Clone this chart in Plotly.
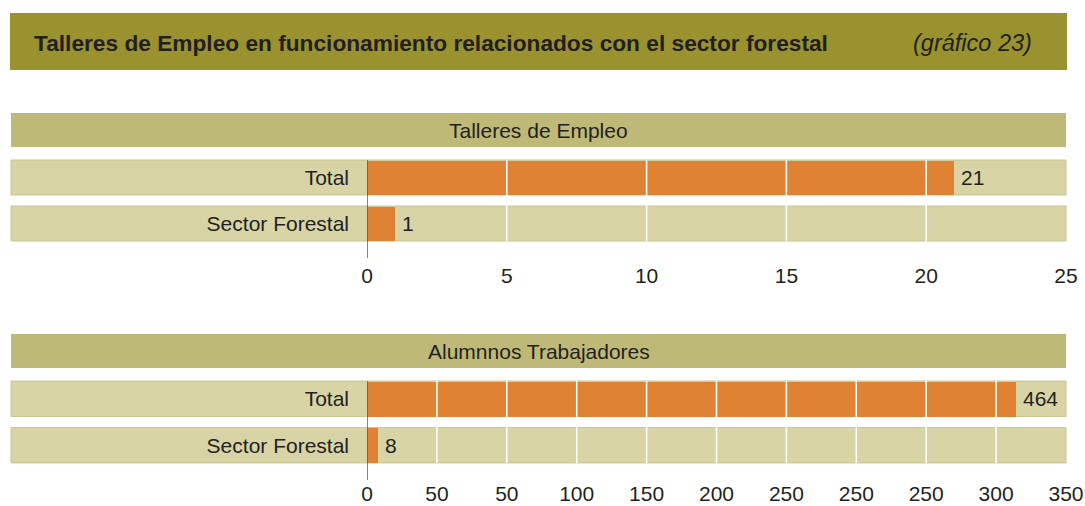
import plotly.graph_objects as go

# ---- data ----
categories = ["Total", "Sector Forestal"]
talleres_values = [21, 1]
alumnos_values = [464, 8]
talleres_ticks = [0, 5, 10, 15, 20, 25]
talleres_ticktext = ["0", "5", "10", "15", "20", "25"]
alumnos_ticks = [0, 50, 100, 150, 200, 250, 300, 350, 400, 450, 500]
alumnos_ticktext = ["0", "50", "50", "100", "150", "200", "250", "250", "250", "300", "350"]

title_text = "Talleres de Empleo en funcionamiento relacionados con el sector forestal"
subtitle_text = "(gráfico 23)"
section1 = "Talleres de Empleo"
section2 = "Alumnnos Trabajadores"

# ---- style ----
W, H = 1085, 506
FONT = "Liberation Sans, Arial, sans-serif"
TXT = "#231f20"
ORANGE = "#e08233"
ROW_BG = "#d8d4a6"
ROW_LINE = "#c9c48c"
HEAD_BG = "#bfb977"
TITLE_BG = "#99922f"


def px(x):
    return x / W


def py(y):
    return 1 - y / H


X0, X1 = 367, 1066
LEFT = 11
BAR_W = 0.76

fig = go.Figure()

panels = [
    dict(vals=talleres_values, ticks=talleres_ticks, ticktext=talleres_ticktext,
         rng=[0, 25], ax="x", ay="y", top=154.5, bottom=246.5, head=(113, 147), headtext=section1,
         axis_bottom=258, standoff=14),
    dict(vals=alumnos_values, ticks=alumnos_ticks, ticktext=alumnos_ticktext,
         rng=[0, 500], ax="x2", ay="y2", top=375.5, bottom=468.5, head=(334, 368), headtext=section2,
         axis_bottom=480, standoff=10),
]

shapes = []
annotations = []

# title band
shapes.append(dict(type="rect", xref="paper", yref="paper", x0=px(10), x1=px(1067),
                   y0=py(70), y1=py(13), fillcolor=TITLE_BG, line=dict(width=0), layer="below"))
annotations.append(dict(text="<b>" + title_text + "</b>", xref="paper", yref="paper",
                        x=px(32), y=py(43), xanchor="left", yanchor="middle", showarrow=False,
                        font=dict(family=FONT, size=22.7, color=TXT)))
annotations.append(dict(text="<i>" + subtitle_text + "</i>", xref="paper", yref="paper",
                        x=px(1034), y=py(43), xanchor="right", yanchor="middle", showarrow=False,
                        font=dict(family=FONT, size=23.5, color=TXT)))

for i, p in enumerate(panels):
    suffix = "" if i == 0 else "2"
    xa = "xaxis" + suffix
    ya = "yaxis" + suffix
    fig.add_trace(go.Bar(x=p["vals"], y=categories, orientation="h", width=BAR_W,
                         marker=dict(color=ORANGE, line=dict(width=0)),
                         xaxis=p["ax"], yaxis=p["ay"], hoverinfo="skip", showlegend=False))
    fig.update_layout(**{
        xa: dict(domain=[px(X0), px(X1)], range=p["rng"], tickvals=p["ticks"], ticktext=p["ticktext"],
                 anchor=p["ay"], showgrid=False, zeroline=False, showline=False, ticks="",
                 ticklabelstandoff=p["standoff"], automargin=False,
                 tickfont=dict(family=FONT, size=21, color=TXT), fixedrange=True),
        ya: dict(domain=[py(p["bottom"]), py(p["top"])], range=[1.5, -0.5], type="category",
                 categoryorder="array", categoryarray=categories,
                 anchor=p["ax"], showgrid=False, zeroline=False, showline=False, ticks="",
                 ticklabelstandoff=17, automargin=False,
                 tickfont=dict(family=FONT, size=21, color=TXT), fixedrange=True),
    })
    # section header
    h0, h1 = p["head"]
    shapes.append(dict(type="rect", xref="paper", yref="paper", x0=px(LEFT), x1=px(X1),
                       y0=py(h1), y1=py(h0), fillcolor=HEAD_BG, line=dict(width=0), layer="below"))
    annotations.append(dict(text=p["headtext"], xref="paper", yref="paper",
                            x=px((LEFT + X1) / 2), y=py((h0 + h1) / 2), xanchor="center",
                            yanchor="middle", showarrow=False,
                            font=dict(family=FONT, size=21, color=TXT)))
    # row backgrounds
    for j, c in enumerate(categories):
        shapes.append(dict(type="rect", xref="paper", yref=p["ay"], x0=px(LEFT), x1=px(X1),
                           y0=j - BAR_W / 2, y1=j + BAR_W / 2, fillcolor=ROW_BG,
                           line=dict(color=ROW_LINE, width=1), layer="below"))
    # white gridlines above bars
    for t in p["ticks"][1:-1]:
        shapes.append(dict(type="line", xref=p["ax"], yref=p["ay"], x0=t, x1=t,
                           y0=-BAR_W / 2, y1=len(categories) - 1 + BAR_W / 2,
                           line=dict(color="white", width=1.5), layer="above"))
    # axis line at zero
    shapes.append(dict(type="line", xref=p["ax"], yref="paper", x0=0, x1=0,
                       y0=py(p["axis_bottom"]), y1=py(p["top"] + 23 * (1 - BAR_W)),
                       line=dict(color="#5a5a5a", width=1.5), layer="above"))
    # value labels
    for c, v in zip(categories, p["vals"]):
        annotations.append(dict(text=str(v), xref=p["ax"], yref=p["ay"], x=v, y=c,
                                xanchor="left", yanchor="middle", xshift=5, showarrow=False,
                                font=dict(family=FONT, size=21, color=TXT)))

fig.update_layout(width=W, height=H, autosize=False,
                  margin=dict(l=0, r=0, t=0, b=0, pad=0, autoexpand=False),
                  paper_bgcolor="white", plot_bgcolor="rgba(0,0,0,0)",
                  shapes=shapes, annotations=annotations, bargap=0, showlegend=False)

fig.write_html("out.html", config={"displayModeBar": False, "responsive": False},
               post_script="document.body.style.margin='0';document.body.style.overflow='hidden';")
